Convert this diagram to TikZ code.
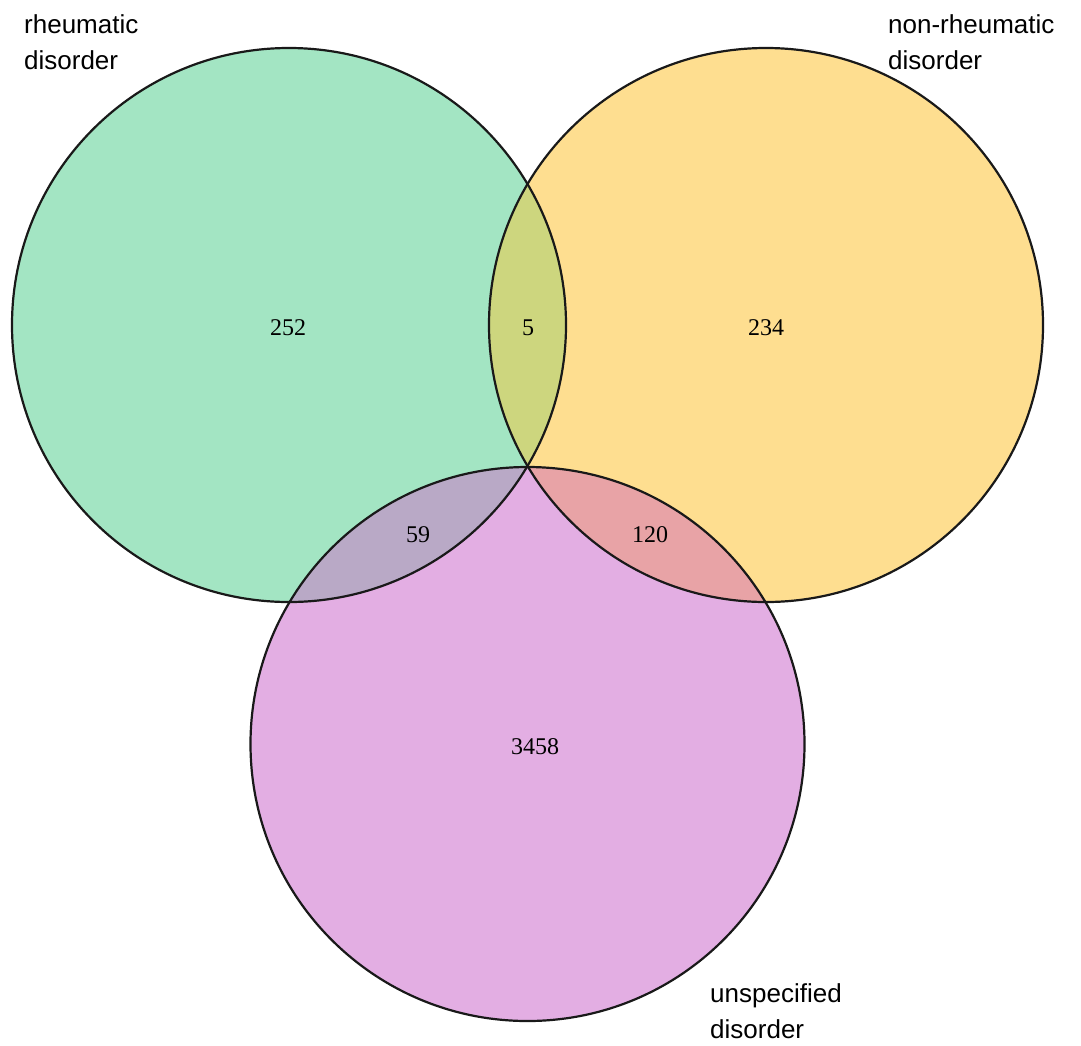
\documentclass[tikz,border=0pt]{standalone}
\usepackage{fontspec}
\setmainfont{Liberation Serif}
\newfontfamily\labfont{Liberation Sans}
\definecolor{cgreen}{HTML}{A3E5C3}
\definecolor{cyellow}{HTML}{FEDE90}
\definecolor{cpurple}{HTML}{E3AEE3}
\definecolor{cgy}{HTML}{CDD67E}
\definecolor{cgp}{HTML}{B9A9C6}
\definecolor{cyp}{HTML}{E8A3A6}
\definecolor{cgyp}{HTML}{C8A890}
\begin{document}
\begin{tikzpicture}[x=1pt,y=-1pt,
  setlabel/.style={font=\labfont\fontsize{26}{36}\selectfont, align=left, anchor=north west, inner sep=0pt},
  count/.style={font=\fontsize{24}{24}\selectfont, inner sep=0pt},
  ring/.style={draw=black!90, line width=2.2pt}]
\useasboundingbox (0,0) rectangle (1081,1045);
\def\R{277}
\coordinate (G) at (289,325);
\coordinate (Y) at (766,325);
\coordinate (P) at (527.5,744);
% base fills
\fill[cgreen] (G) circle (\R);
\fill[cyellow] (Y) circle (\R);
\fill[cpurple] (P) circle (\R);
% pairwise overlaps
\begin{scope}
  \clip (G) circle (\R);
  \fill[cgy] (Y) circle (\R);
  \fill[cgp] (P) circle (\R);
\end{scope}
\begin{scope}
  \clip (Y) circle (\R);
  \fill[cyp] (P) circle (\R);
  \clip (G) circle (\R);
  \fill[cgyp] (P) circle (\R);
\end{scope}
% outlines
\draw[ring] (G) circle (\R);
\draw[ring] (Y) circle (\R);
\draw[ring] (P) circle (\R);
% counts
\node[count] (n252) at (288,328) {252};
\node[count] (n5) at (528,328) {5};
\node[count] (n234) at (766,328) {234};
\node[count] (n59) at (418,535) {59};
\node[count] (n120) at (650,535) {120};
\node[count] (n3458) at (535,747) {3458};
% labels
\node[setlabel] (lr) at (24,14) {rheumatic\\disorder};
\node[setlabel] (lnr) at (888,14) {non-rheumatic\\disorder};
\node[setlabel] (lu) at (710,983) {unspecified\\disorder};
\end{tikzpicture}
\end{document}
